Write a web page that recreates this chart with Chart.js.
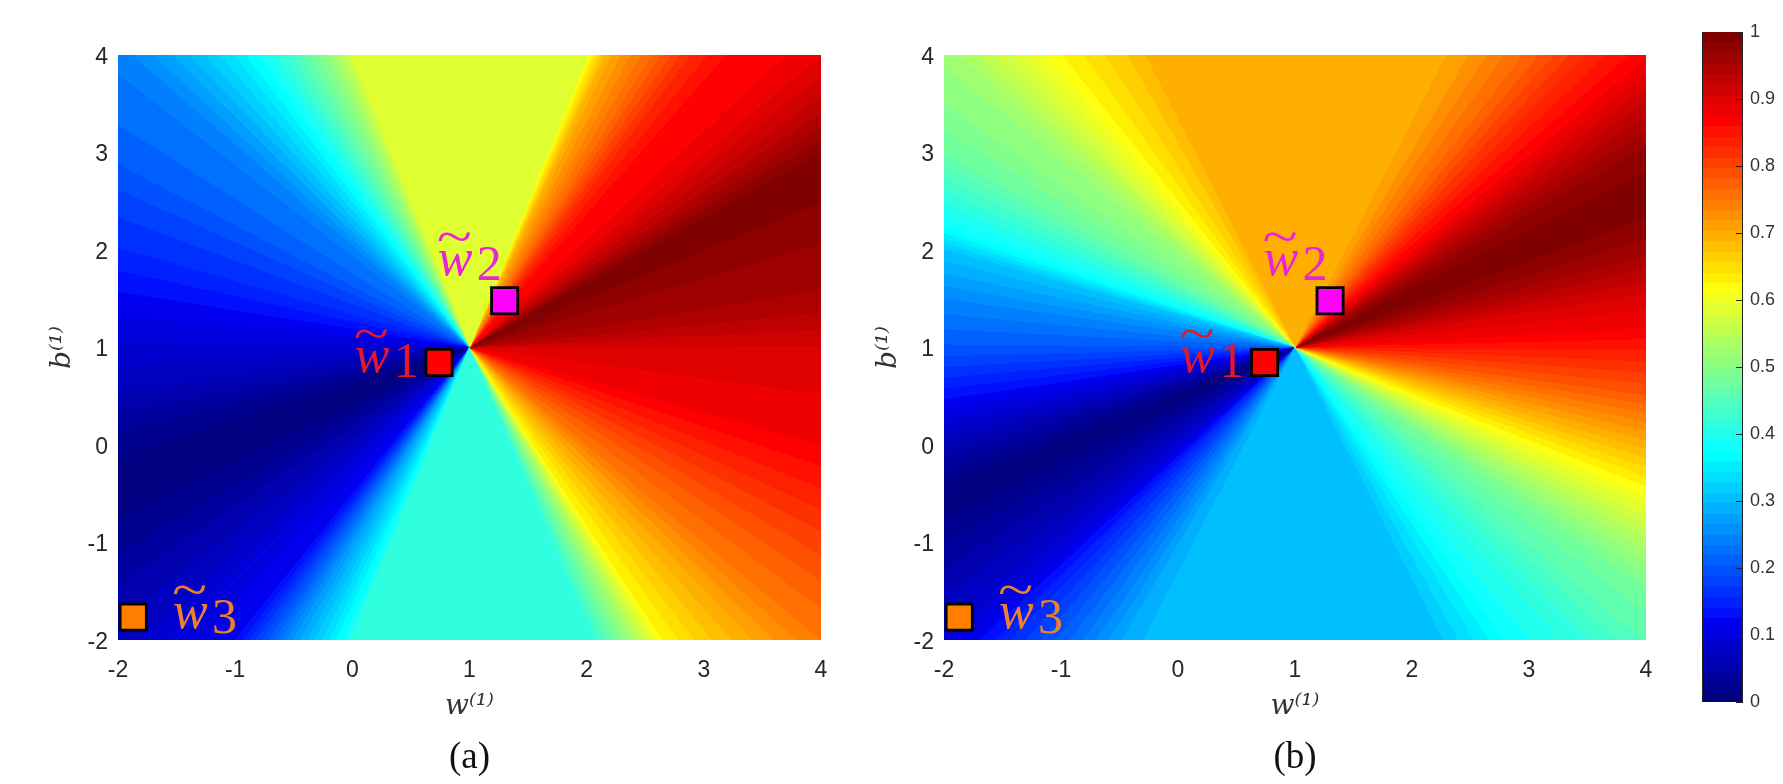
<!DOCTYPE html>
<html>
<head>
<meta charset="utf-8">
<style>
html,body{margin:0;padding:0;background:#fff;width:1783px;height:784px;overflow:hidden}
canvas{position:absolute;top:0}
</style>
<script src="https://cdn.jsdelivr.net/npm/chart.js@4/dist/chart.umd.min.js"></script>
</head>
<body>
<canvas id="a" width="880" height="784" style="left:0;width:880px;height:784px"></canvas>
<canvas id="b" width="880" height="784" style="left:826px;width:880px;height:784px"></canvas>
<canvas id="c" width="93" height="784" style="left:1690px;width:93px;height:784px"></canvas>
<script>
// Perimeter readings of each panel, walked clockwise from the top-left corner
const aW=[-2,-1.5,-1,-.816,-.5,-.2,-.05,0,2,2.04,2.17,2.55,2.9,3.25,3.7,4, 4,4,4,4,4,4,4,4,4,4,4,4,4, 3.5,3,2.65,2.4,2.05,0,-.08,-.5,-1,-1.5,-2, -2,-2,-2,-2,-2,-2,-2,-2,-2,-2,-2,-2];
const aB=[4,4,4,4,4,4,4,4,4,4,4,4,4,4,4,4, 3.46,3,2.75,2.5,2.1,1.5,1,.5,0,-.5,-1,-1.5,-2, -2,-2,-2,-2,-2,-2,-2,-2,-2,-2,-2, -1.5,-1,-.45,0,.5,1,1.5,2,2.5,3,3.5,4];
const aV=[.24,.285,.345,.375,.44,.51,.56,.585,.585,.625,.695,.765,.83,.865,.875,.89, .93,.985,.998,.985,.97,.95,.905,.89,.875,.84,.805,.775,.75, .71,.665,.625,.53,.414,.414,.375,.27,.125,.1,.07, .05,.025,.002,.02,.06,.09,.12,.155,.18,.21,.225,.24];
const bW=[-2,-1.5,-.99,-.7,-.45,-.21,2.2,2.5,3,3.5,4, 4,4,4,4,4,4,4,4,4,4,4,4, 3.5,3,2.8,2.5,2.2,-.21,-.5,-1,-1.5,-2, -2,-2,-2,-2,-2,-2,-2,-2,-2,-2,-2];
const bB=[4,4,4,4,4,4,4,4,4,4,4, 3.5,3,2.52,2,1.5,1.2,.5,0,-.42,-1,-1.5,-2, -2,-2,-2,-2,-2,-2,-2,-2,-2,-2, -1.5,-1,-.53,0,.5,1,1.5,2,2.23,3,3.5];
const bV=[.52,.57,.625,.65,.67,.695,.695,.72,.77,.83,.87, .925,.975,.998,.96,.9,.875,.78,.695,.625,.54,.48,.455, .42,.39,.375,.34,.305,.305,.28,.21,.15,.09, .06,.03,.002,.06,.13,.2,.25,.31,.375,.47,.5];
// Square markers and their labels
const markW=[.74,1.3,-1.87];
const markB=[.846,1.48,-1.765];
const markColors=['#ff0000','#ff00ff','#ff8000'];
const labelW=[.02,.73,-1.53];
const labelB=[.75,1.74,-1.88];
const labelDigits=['1','2','3'];
const labelColors=['#e3182d','#ea22d8','#ee7f2d'];
const axisTicks=[-2,-1,0,1,2,3,4];
const barTicks=[0,.1,.2,.3,.4,.5,.6,.7,.8,.9,1];
const centerW=1, centerB=1;

function jetRamp(j){ if(j<1||j>47) return 0; if(j<=16) return j/16; if(j<=31) return 1; return (48-j)/16; }
function jetLevel(k){
  const i=Math.max(1,Math.min(64,k+1));
  return `rgb(${Math.round(255*jetRamp(i-24))},${Math.round(255*jetRamp(i-8))},${Math.round(255*jetRamp(i+7))})`;
}
const levelOf=v=>Math.min(63,Math.floor(v*64));
function sectorPaint(chart,w0,b0,w1,b1,v0,v1){
  const sx=chart.scales.x, sy=chart.scales.y;
  const cx=sx.getPixelForValue(centerW), cy=sy.getPixelForValue(centerB);
  const a0=Math.atan2(sy.getPixelForValue(b0)-cy,sx.getPixelForValue(w0)-cx);
  let a1=Math.atan2(sy.getPixelForValue(b1)-cy,sx.getPixelForValue(w1)-cx);
  while(a1<a0)a1+=2*Math.PI;
  const L0=levelOf(v0),L1=levelOf(v1);
  if(L0===L1) return jetLevel(L0);
  const start=a0-.04;
  const g=chart.ctx.createConicGradient(start,cx,cy);
  const off=a=>(a-start)/(2*Math.PI);
  g.addColorStop(0,jetLevel(L0));
  const step=L1>L0?1:-1;
  for(let L=L0;L!==L1;L+=step){
    const edge=(step>0?L+1:L)/64;
    const t=(edge-v0)/(v1-v0);
    const o=off(a0+(a1-a0)*t);
    g.addColorStop(o,jetLevel(L));
    g.addColorStop(o,jetLevel(L+step));
  }
  g.addColorStop(1,jetLevel(L1));
  return g;
}
const labelsPlugin={
  id:'panelText',
  afterDatasetsDraw(chart,args,o){
    const c=chart.ctx,sx=chart.scales.x,sy=chart.scales.y,a=chart.chartArea;
    c.save();
    c.textBaseline='alphabetic';c.textAlign='left';
    labelW.forEach((w,i)=>{
      const x=sx.getPixelForValue(w),y=sy.getPixelForValue(labelB[i]);
      c.fillStyle=labelColors[i];
      c.font='italic 52px "Liberation Serif"';
      c.fillText('w',x,y);
      c.save();
      c.translate(x-1,y-22);c.scale(1.3,1);
      c.font='50px "Liberation Serif"';
      c.fillText('~',0,0);
      c.restore();
      c.font='50px "Liberation Serif"';
      c.fillText(labelDigits[i],x+39,y+5);
    });
    c.restore();
    c.save();
    c.fillStyle='#111';c.font='37px "Liberation Serif"';c.textAlign='center';c.textBaseline='alphabetic';
    c.fillText(o.caption,(a.left+a.right)/2,768);
    c.restore();
  }
};
function panel(id,W,B,V,caption,padR){
  const n=W.length;
  const sectors=W.map((w,i)=>{
    const j=(i+1)%n;
    return {data:[{x:centerW,y:centerB},{x:w,y:B[i]},{x:W[j],y:B[j]},{x:centerW,y:centerB}],
      order:1,showLine:true,fill:'shape',borderWidth:1,pointRadius:0,backgroundColor:'#888',borderColor:'#888',tension:0,clip:0};
  });
  const marks=markW.map((w,i)=>({x:w,y:markB[i]}));
  const tickFont={family:'"Liberation Sans"',size:23};
  const common={type:'linear',min:-2,max:4,
    grid:{display:false,drawTicks:false},border:{display:false},
    afterBuildTicks:s=>{s.ticks=axisTicks.map(value=>({value}));}};
  return new Chart(document.getElementById(id),{
    type:'scatter',
    data:{datasets:[
      {data:marks,order:0,showLine:false,pointStyle:'rect',pointRadius:18.5,pointBorderWidth:2.8,pointBorderColor:'#000',pointBackgroundColor:markColors,clip:false},
      ...sectors
    ]},
    plugins:[labelsPlugin,{id:'fan',afterLayout(chart){
      W.forEach((w,i)=>{
        const j=(i+1)%n;
        const p=sectorPaint(chart,w,B[i],W[j],B[j],V[i],V[j]);
        const d=chart.data.datasets[i+1];
        d.backgroundColor=p;d.borderColor=p;
      });
    }}],
    options:{responsive:false,animation:false,events:[],
      layout:{padding:{left:0,right:padR,top:55,bottom:0}},
      plugins:{legend:{display:false},tooltip:{enabled:false},panelText:{caption}},
      scales:{
        x:{...common,position:'bottom',
          ticks:{font:tickFont,color:'#262626',padding:17,maxRotation:0,autoSkip:false},
          title:{display:true,text:'w\u207D\u00B9\u207E',color:'#333',font:{family:'"DejaVu Serif"',size:28,style:'italic'},padding:{top:0,bottom:60}},
          afterFit:s=>{s.height=144;}},
        y:{...common,position:'left',
          ticks:{font:tickFont,color:'#262626',padding:10,autoSkip:false,labelOffset:2.5},
          title:{display:true,text:'b\u207D\u00B9\u207E',color:'#333',font:{family:'"DejaVu Serif"',size:28,style:'italic'},padding:{top:46,bottom:0}},
          afterFit:s=>{s.width=118;}}
      }
    }
  });
}
panel('a',aW,aB,aV,'(a)',59);
panel('b',bW,bB,bV,'(b)',60);

new Chart(document.getElementById('c'),{
  type:'bar',
  data:{labels:[''],datasets:[{data:[[0,1]],barPercentage:1,categoryPercentage:1,backgroundColor:'#888',borderWidth:0}]},
  plugins:[{id:'bar',
    afterLayout(chart){
      const a=chart.chartArea,g=chart.ctx.createLinearGradient(0,a.bottom,0,a.top);
      for(let k=0;k<64;k++){g.addColorStop(k/64,jetLevel(k));g.addColorStop((k+1)/64,jetLevel(k));}
      chart.data.datasets[0].backgroundColor=g;
    },
    afterDatasetsDraw(chart){
      const c=chart.ctx,a=chart.chartArea,s=chart.scales.y;
      c.save();c.strokeStyle='#222';c.lineWidth=1;
      c.beginPath();
      c.moveTo(a.left+.5,a.top);c.lineTo(a.left+.5,a.bottom);
      c.moveTo(a.right-.5,a.top);c.lineTo(a.right-.5,a.bottom);
      barTicks.forEach(v=>{const y=Math.round(s.getPixelForValue(v))+.5;c.moveTo(a.right-7,y);c.lineTo(a.right,y);});
      c.stroke();c.restore();
    }}],
  options:{responsive:false,animation:false,events:[],
    layout:{padding:{left:12,right:0,top:32,bottom:82}},
    plugins:{legend:{display:false},tooltip:{enabled:false}},
    scales:{
      x:{display:false},
      y:{type:'linear',position:'right',min:0,max:1,
        grid:{display:false,drawTicks:false},border:{display:false},
        afterBuildTicks:s=>{s.ticks=barTicks.map(value=>({value}));},
        ticks:{font:{family:'"Liberation Sans"',size:18},color:'#333',padding:7,autoSkip:false,callback:v=>String(Number(v.toFixed(1)))},
        afterFit:s=>{s.width=40;}}
    }
  }
});
</script>
</body>
</html>
